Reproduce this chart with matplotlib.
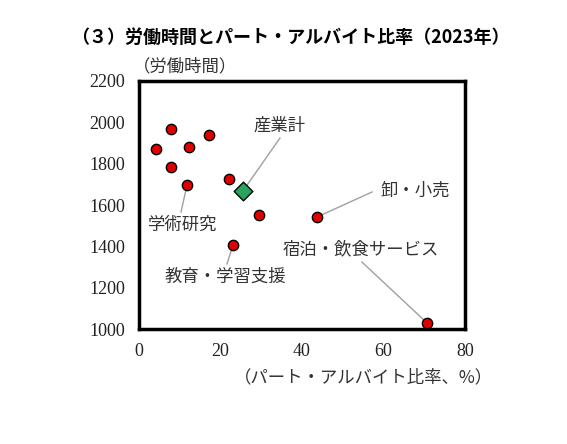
import numpy as np
import matplotlib.pyplot as plt
import matplotlib

matplotlib.rcParams['font.family'] = ['serif']
matplotlib.rcParams['font.serif'] = ['Liberation Serif', 'DejaVu Serif']

# 産業別データ(パート・アルバイト比率 %, 労働時間)
part_ratio = [4.2, 7.9, 7.9, 12.3, 17.2, 11.8, 22.1, 29.4, 23.1, 43.7, 70.7]
work_hours = [1871, 1968, 1784, 1881, 1939, 1697, 1726, 1552, 1407, 1542, 1029]

# 産業計
total_ratio = 25.5
total_hours = 1668

# ラベル: (名前, 対象点のx, y, 文字位置x, y)
labels = [
    ('産業計', 25.5, 1668, 34.6, 1982),
    ('学術研究', 11.8, 1697, 10.8, 1503),
    ('教育・学習支援', 23.1, 1407, 21.3, 1252),
    ('卸・小売', 43.7, 1542, 67.7, 1668),
    ('宿泊・飲食サービス', 70.7, 1029, 54.5, 1387),
]
line_start = [(34.6, 1924), (10.3, 1566), (21.6, 1315), (57.2, 1663), (54.7, 1324)]

jp = ['Noto Sans CJK JP', 'DejaVu Sans']

fig = plt.figure(figsize=(5.67, 4.44), dpi=100)
ax = fig.add_axes([139 / 567, 1 - 329 / 444, (465 - 139) / 567, (329 - 81) / 444])

for (name, px, py, tx, ty), (lx, ly) in zip(labels, line_start):
    ax.plot([lx, px], [ly, py], color='#a0a0a0', linewidth=1.0, zorder=2)
    ax.text(tx, ty, name, ha='center', va='center', fontsize=12.5,
            family=jp, color='#333333')

ax.scatter(part_ratio, work_hours, s=55, color='#e00000',
           edgecolor='black', linewidth=1.0, zorder=4)
ax.scatter([total_ratio], [total_hours], s=90, marker='D', color='#2ca25f',
           edgecolor='black', linewidth=1.0, zorder=5)

ax.set_xlim(0, 80)
ax.set_ylim(1000, 2200)
ax.set_xticks([0, 20, 40, 60, 80])
ax.set_yticks(range(1000, 2201, 200))
ax.tick_params(length=0, labelsize=13, pad=10, labelcolor='#222222')
for s in ax.spines.values():
    s.set_linewidth(2.5)

fig.text(133 / 567, 1 - 66 / 444, '（労働時間）', ha='left', va='center',
         fontsize=12.5, family=jp, color='#333333')
fig.text(493 / 567, 1 - 377 / 444, '（パート・アルバイト比率、%）', ha='right',
         va='center', fontsize=12.5, family=jp, color='#333333')
fig.text(290 / 567, 1 - 37 / 444, '（３）労働時間とパート・アルバイト比率（2023年）',
         ha='center', va='center', fontsize=13, fontweight='bold',
         family=jp)

plt.savefig('out.png', dpi=100)
